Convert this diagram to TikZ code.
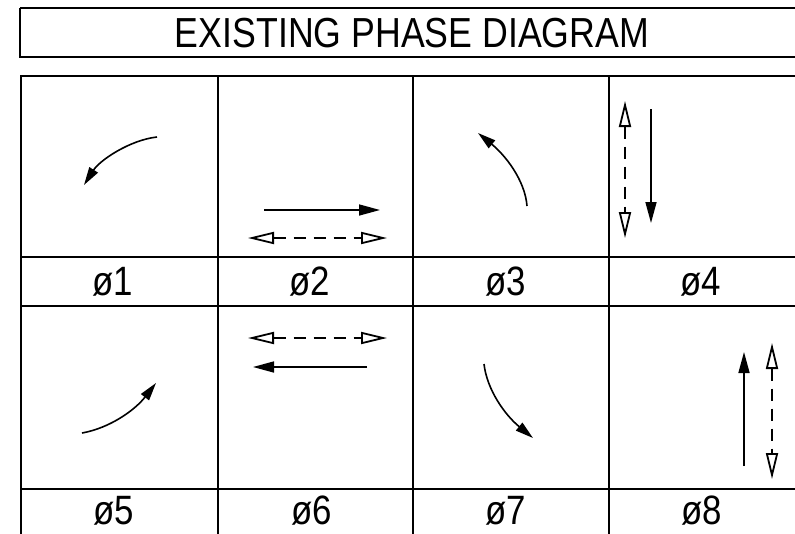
\documentclass[tikz,border=0pt]{standalone}
\usepackage{fontspec}
\setmainfont{Liberation Sans}
\usetikzlibrary{arrows.meta}
\begin{document}
\begin{tikzpicture}[x=1pt,y=-1pt,
  frame/.style={line width=2.4pt},
  solidarr/.style={line width=1.6pt,-{Triangle[length=21pt,width=11pt]}},
  openarr/.style={line width=2.5pt,dash pattern=on 12pt off 8pt,
     {Triangle[open,length=26pt,width=12pt,line width=1.8pt]}-{Triangle[open,length=26pt,width=12pt,line width=1.8pt]}},
  curvarr/.style={line width=1.6pt,-{Triangle[length=18pt,width=10pt]}},
  lbl/.style={font=\fontsize{41}{41}\selectfont, xscale=0.85, anchor=base, inner sep=0pt},
  ttl/.style={font=\fontsize{42}{42}\selectfont, xscale=0.85, inner sep=0pt}
]
\useasboundingbox (0,0) rectangle (795,533);
% title
\draw[frame] (20,8) -- (812,8) (20,8) -- (20,57) -- (812,57);
\node[ttl] (title) at (412,33) {EXISTING PHASE DIAGRAM};
% grid
\draw[frame] (21,545) -- (21,76) -- (812,76);
\draw[frame] (218,76) -- (218,545);
\draw[frame] (413,76) -- (413,545);
\draw[frame] (609,76) -- (609,545);
\draw[frame] (21,257) -- (812,257);
\draw[frame] (21,306) -- (812,306);
\draw[frame] (21,489) -- (812,489);
% labels
\node[lbl] (p1) at (113,295) {ø1};
\node[lbl] (p2) at (310,295) {ø2};
\node[lbl] (p3) at (506,295) {ø3};
\node[lbl] (p4) at (701,295) {ø4};
\node[lbl] (p5) at (114,524) {ø5};
\node[lbl] (p6) at (312,524) {ø6};
\node[lbl] (p7) at (506,524) {ø7};
\node[lbl] (p8) at (702,524) {ø8};
% coordinates
\coordinate (a1s) at (157,137); \coordinate (a1e) at (84,185);
\coordinate (a3s) at (527,206); \coordinate (a3e) at (478,133);
\coordinate (a5s) at (82,433);  \coordinate (a5e) at (156,383);
\coordinate (a7s) at (484,364); \coordinate (a7e) at (533,438);
\coordinate (s2s) at (264,210); \coordinate (s2e) at (380,210);
\coordinate (d2s) at (248,238); \coordinate (d2e) at (387,238);
\coordinate (d6s) at (248,338); \coordinate (d6e) at (387,338);
\coordinate (s6s) at (367,367); \coordinate (s6e) at (253,367);
\coordinate (d4s) at (625,101); \coordinate (d4e) at (625,238);
\coordinate (s4s) at (651,109); \coordinate (s4e) at (651,223);
\coordinate (s8s) at (744,466); \coordinate (s8e) at (744,352);
\coordinate (d8s) at (772,343); \coordinate (d8e) at (772,479);
% curved arrows
\draw[curvarr] (a1s) .. controls (130,140) and (100,160) .. (a1e);
\draw[curvarr] (a3s) .. controls (525,180) and (505,155) .. (a3e);
\draw[curvarr] (a5s) .. controls (110,428) and (135,410) .. (a5e);
\draw[curvarr] (a7s) .. controls (487,390) and (505,415) .. (a7e);
% straight arrows
\draw[solidarr] (s2s) -- (s2e);
\draw[openarr] (d2s) -- (d2e);
\draw[openarr] (d6s) -- (d6e);
\draw[solidarr] (s6s) -- (s6e);
\draw[openarr] (d4s) -- (d4e);
\draw[solidarr] (s4s) -- (s4e);
\draw[solidarr] (s8s) -- (s8e);
\draw[openarr] (d8s) -- (d8e);
\end{tikzpicture}
\end{document}
